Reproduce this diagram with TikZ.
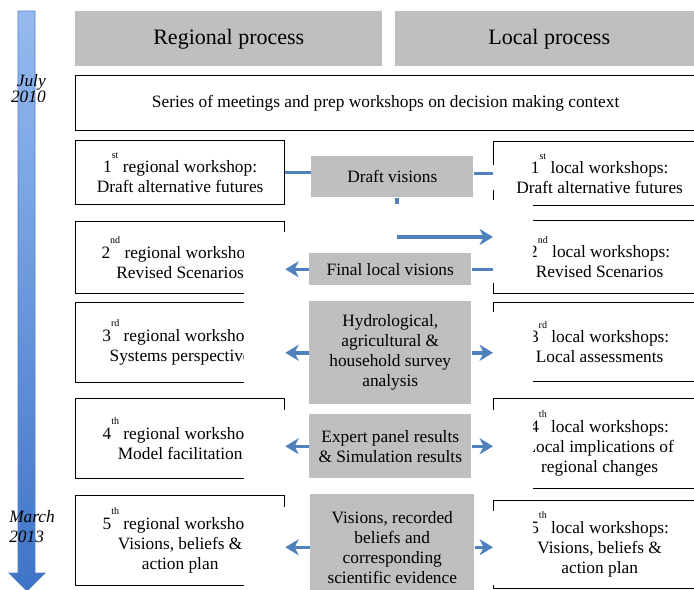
\documentclass[tikz,border=0pt]{standalone}
\usepackage{fontspec}
\setmainfont{Liberation Serif}
\usetikzlibrary{arrows.meta,positioning}
\definecolor{panelgray}{RGB}{191,191,191}
\definecolor{linkblue}{RGB}{79,129,189}
\definecolor{barTop}{RGB}{150,186,240}
\definecolor{barBot}{RGB}{62,116,200}
\definecolor{barEdge}{RGB}{84,128,196}
\newcommand{\ordmark}[2]{#1\raisebox{11pt}{\fontsize{7.5}{7.5}\selectfont #2}}

\begin{document}
\begin{tikzpicture}[
    x=0.75pt, y=-0.75pt,
    dims/.style 2 args={minimum width={#1*0.75pt}, minimum height={#2*0.75pt}},
    hdr/.style={rectangle, fill=panelgray, anchor=north west, inner sep=0pt,
                font=\fontsize{16.5}{19}\selectfont},
    stage/.style={rectangle, draw=black, line width=1pt, fill=white, anchor=north west,
                  inner sep=0pt, align=center, font=\fontsize{13}{15}\selectfont},
    note/.style={rectangle, fill=panelgray, anchor=north west, inner sep=0pt,
                 align=center, font=\fontsize{13}{15}\selectfont},
    mask/.style={fill=white},
    date/.style={inner sep=0pt, font=\fontsize{13}{12}\selectfont\itshape},
    link/.style={line width=2.6pt, linkblue},
    arrow/.style={-{Stealth[length=10pt, width=12pt, inset=3pt]}, line width=2.6pt, linkblue}
  ]
  \useasboundingbox (0,0) rectangle (694,590);
  \clip (0,0) rectangle (694,590);

  % Time line
  \shade[top color=barTop, bottom color=barBot, draw=barEdge, line width=0.6pt]
    (18,11) -- (35,11) -- (35,573) -- (45,573) -- (27,591) -- (9,573) -- (18,573) -- cycle;
  \node[date, align=right, anchor=east] (julyDate) at (46,89) {July\\2010};
  \node[date, align=left, anchor=west, font=\fontsize{13}{15}\selectfont\itshape]
    (marchDate) at (9,527) {March\\2013};

  % Headers
  \node[hdr, dims={307}{55}] (hdrReg) at (75,11) {Regional process};
  \node[hdr, dims={308}{55}] (hdrLoc) at (395,11) {Local process};
  \node[stage, dims={620}{55}] (prep) at (75,75)
    {Series of meetings and prep workshops on decision making context};

  % Regional workshops
  \node[stage, dims={209}{64}] (reg1) at (75,140) {\ordmark{1}{st} regional workshop:\\Draft alternative futures};
  \node[stage, dims={209}{72}] (reg2) at (75,221) {\ordmark{2}{nd} regional workshop:\\Revised Scenarios};
  \node[stage, dims={209}{80}] (reg3) at (75,302) {\ordmark{3}{rd} regional workshop:\\Systems perspective};
  \node[stage, dims={209}{80}] (reg4) at (75,398) {\ordmark{4}{th} regional workshop:\\Model facilitation};
  \node[stage, dims={209}{90}] (reg5) at (75,495) {\ordmark{5}{th} regional workshop:\\Visions, beliefs \&\\action plan};

  % Local workshops
  \node[stage, dims={212}{64}] (loc1) at (493,141) {\ordmark{1}{st} local workshops:\\Draft alternative futures};
  \node[stage, dims={212}{73}] (loc2) at (493,220) {\ordmark{2}{nd} local workshops:\\Revised Scenarios};
  \node[stage, dims={212}{79}] (loc3) at (493,302) {\ordmark{3}{rd} local workshops:\\Local assessments};
  \node[stage, dims={212}{90}] (loc4) at (493,398) {\ordmark{4}{th} local workshops:\\Local implications of\\regional changes};
  \node[stage, dims={212}{88}] (loc5) at (493,500) {\ordmark{5}{th} local workshops:\\Visions, beliefs \&\\action plan};

  % Overlapping blank text boxes
  \fill[mask] (244,232) rectangle (288,297);
  \fill[mask] (244,298) rectangle (288,385);
  \fill[mask] (244,410) rectangle (288,481);
  \fill[mask] (244,507) rectangle (288,590);
  \fill[mask] (489,165) rectangle (497,190);
  \fill[mask] (489,200) rectangle (533,283);
  \fill[mask] (489,312) rectangle (533,391);
  \fill[mask] (489,410) rectangle (533,493);
  \fill[mask] (489,511) rectangle (533,585);

  % Exchanged material
  \node[note, dims={162}{41}] (viz1) at (311,156) {Draft visions};
  \node[note, dims={162}{32}] (viz2) at (309,253) {Final local visions};
  \node[note, dims={162}{103}] (viz3) at (309,301) {Hydrological,\\agricultural \&\\household survey\\analysis};
  \node[note, dims={162}{64}] (viz4) at (309,414) {Expert panel results\\\& Simulation results};
  \node[note, dims={164}{106}] (viz5) at (310,494) {Visions, recorded\\beliefs and\\corresponding\\scientific evidence};

  % Connectors
  \coordinate (turn) at (397,237);
  \draw[link] (reg1.east) -- (reg1.east -| viz1.west);
  \draw[link] (loc1.west) -- (loc1.west -| viz1.east);
  \draw[link] (turn |- viz1.south) -- ++(0,6);
  \draw[arrow] (turn) -- (turn -| loc2.west);
  \draw[arrow] (viz2.west) -- (viz2.west -| reg2.east);
  \draw[link] (viz2.east) -- (viz2.east -| loc2.west);
  \foreach \n in {3,4,5} {
    \draw[arrow] (viz\n.west) -- (viz\n.west -| reg\n.east);
    \draw[arrow] (viz\n.east) -- (viz\n.east -| loc\n.west);
  }
\end{tikzpicture}
\end{document}
